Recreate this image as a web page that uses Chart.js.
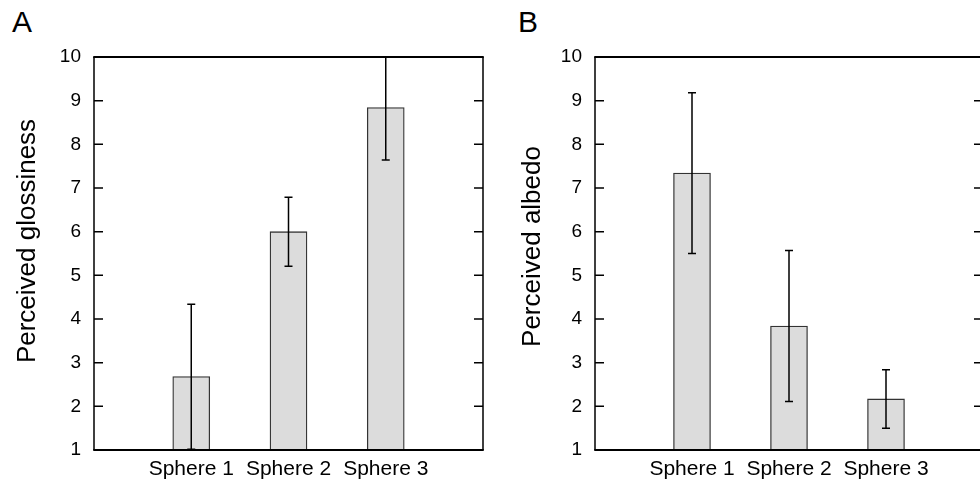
<!DOCTYPE html>
<html>
<head>
<meta charset="utf-8">
<script src="https://cdn.jsdelivr.net/npm/chart.js@4/dist/chart.umd.min.js"></script>
<style>
html,body{margin:0;padding:0;background:#fff;overflow:hidden;}
body{width:980px;height:483px;position:relative;font-family:"Liberation Sans",Arial,sans-serif;}
canvas{position:absolute;top:0;}
.panel{position:absolute;top:7px;font-size:30px;line-height:1;color:#000;}
</style>
</head>
<body>
<div class="panel" style="left:12px">A</div>
<div class="panel" style="left:518px">B</div>
<canvas id="chartA" width="490" height="483" style="left:0"></canvas>
<canvas id="chartB" width="500" height="483" style="left:490px"></canvas>
<script>
const categories=["Sphere 1","Sphere 2","Sphere 3"];
const glossMeans=[2.68,6.0,8.84];
const glossErrors=[1.66,0.79,1.2];
const albedoMeans=[7.34,3.84,2.17];
const albedoErrors=[1.84,1.73,0.67];
const yTicks=[1,2,3,4,5,6,7,8,9,10];

const FONT="'Liberation Sans', Arial, sans-serif";

// error bars, box frame with inward ticks, rotated y title
const framePlugin={
  id:"frame",
  afterDatasetsDraw(chart){
    const ctx=chart.ctx;
    const a=chart.chartArea;
    const x=chart.scales.x, y=chart.scales.y;
    const errs=chart.data.datasets[0].errors;
    ctx.save();
    ctx.beginPath();
    ctx.rect(a.left,a.top,a.right-a.left,a.bottom-a.top);
    ctx.clip();
    ctx.strokeStyle="#000";
    ctx.lineWidth=1.5;
    chart.data.datasets[0].data.forEach((v,i)=>{
      if(v===null) return;
      const px=x.getPixelForValue(i);
      const hi=y.getPixelForValue(v+errs[i]);
      const lo=y.getPixelForValue(v-errs[i]);
      ctx.beginPath();
      ctx.moveTo(px,hi);ctx.lineTo(px,lo);
      ctx.moveTo(px-4,hi);ctx.lineTo(px+4,hi);
      ctx.moveTo(px-4,lo);ctx.lineTo(px+4,lo);
      ctx.stroke();
    });
    ctx.restore();
  },
  afterDraw(chart,args,opts){
    const ctx=chart.ctx;
    const a=chart.chartArea;
    const y=chart.scales.y;
    ctx.save();
    ctx.strokeStyle="#000";
    ctx.lineWidth=1.5;
    ctx.beginPath();
    ctx.moveTo(a.left,a.top);ctx.lineTo(a.left,a.bottom);
    ctx.moveTo(a.right,a.top);ctx.lineTo(a.right,a.bottom);
    yTicks.slice(1,-1).forEach(t=>{
      const py=y.getPixelForValue(t);
      ctx.moveTo(a.left,py);ctx.lineTo(a.left+9,py);
      ctx.moveTo(a.right,py);ctx.lineTo(a.right-9,py);
    });
    ctx.stroke();
    ctx.lineWidth=2;
    ctx.beginPath();
    ctx.moveTo(a.left-0.75,a.top);ctx.lineTo(a.right+0.75,a.top);
    ctx.moveTo(a.left-0.75,a.bottom);ctx.lineTo(a.right+0.75,a.bottom);
    ctx.stroke();
    // y title
    ctx.translate(opts.titleX,opts.titleY);
    ctx.rotate(-Math.PI/2);
    ctx.fillStyle="#000";
    ctx.font="26px "+FONT;
    ctx.textAlign="center";
    ctx.textBaseline="alphabetic";
    ctx.fillText(opts.title,0,0);
    ctx.restore();
  }
};

function makeChart(id,means,errors,title,axisWidth,rightPad,titleX,titleY){
  return new Chart(document.getElementById(id),{
    type:"bar",
    data:{
      labels:["",...categories,""],
      datasets:[{
        data:[null,...means,null],
        errors:[0,...errors,0],
        backgroundColor:"#dcdcdc",
        borderColor:"#333",
        borderWidth:1.3,
        barThickness:37
      }]
    },
    options:{
      responsive:false,
      animation:false,
      devicePixelRatio:1,
      layout:{padding:{top:57,right:rightPad,left:0,bottom:0}},
      plugins:{
        legend:{display:false},
        tooltip:{enabled:false},
        frame:{title:title,titleX:titleX,titleY:titleY}
      },
      scales:{
        x:{
          offset:false,
          grid:{display:false,drawTicks:false},
          border:{display:false},
          ticks:{autoSkip:false,maxRotation:0,padding:7,color:"#000",font:{family:FONT,size:21}},
          afterFit(s){s.height=33;}
        },
        y:{
          min:1,max:10,
          grid:{display:false,drawTicks:false},
          border:{display:false},
          afterBuildTicks(s){s.ticks=yTicks.map(v=>({value:v}));},
          ticks:{padding:13,color:"#000",font:{family:FONT,size:19}},
          afterFit(s){s.width=axisWidth;}
        }
      }
    },
    plugins:[framePlugin]
  });
}

makeChart("chartA",glossMeans,glossErrors,"Perceived glossiness",94,4,35,241);
makeChart("chartB",albedoMeans,albedoErrors,"Perceived albedo",105,3,50,246.5);
</script>
</body>
</html>
